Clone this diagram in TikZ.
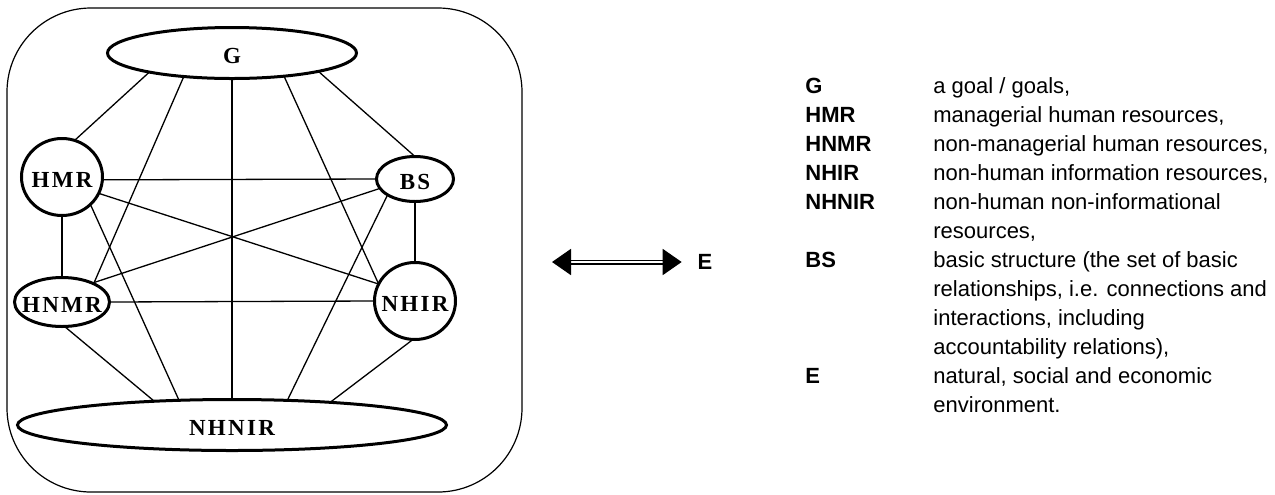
\documentclass[tikz,border=0pt]{standalone}
\usepackage{fontspec}
\setmainfont{Liberation Serif}
\newfontfamily\nodefont[LetterSpace=10]{Liberation Serif}
\newfontfamily\legendfont{Liberation Sans}
\usetikzlibrary{shapes.geometric,arrows.meta}

\tikzset{
  part/.style={ellipse, draw, line width=1.5pt, inner sep=0pt, outer sep=0pt},
  partname/.style={font=\nodefont\fontsize{11.5}{12}\selectfont\bfseries, inner sep=0pt, yshift=-1.5pt},
  link/.style={line width=0.65pt},
  key/.style={anchor=base west, inner sep=0pt, font=\legendfont\fontsize{11}{13}\selectfont\bfseries},
  meaning/.style={anchor=base west, inner sep=0pt, font=\legendfont\fontsize{11}{13}\selectfont},
}

\begin{document}
\begin{tikzpicture}[x=0.5pt,y=-0.5pt]
\useasboundingbox (0,0) rectangle (1275,494);

% === Organisation boundary ===
\draw[line width=0.6pt,rounded corners=42pt] (7,8) rectangle (522,492);

% === Parts ===
\node[part,minimum width=124.5pt,minimum height=25.5pt,label={[partname]center:G}] (G) at (232,53) {};
\node[part,minimum width=40.5pt,minimum height=38.5pt,label={[partname]center:HMR}] (HMR) at (62,177) {};
\node[part,minimum width=38.5pt,minimum height=22.5pt,label={[partname]center:BS}] (BS) at (415,179) {};
\node[part,minimum width=47.5pt,minimum height=24.5pt,label={[partname]center:HNMR}] (HNMR) at (62,302) {};
\node[part,minimum width=40.5pt,minimum height=38.5pt,label={[partname]center:NHIR}] (NHIR) at (415,301) {};
\node[part,minimum width=214.5pt,minimum height=25.5pt,label={[partname]center:NHNIR}] (NHNIR) at (232,425) {};

% === Links: every part with every other ===
\draw[link] (G.193) -- (HMR.71);
\draw[link] (G.206) -- (HNMR.30);
\draw[link] (G.270) -- (NHNIR.90);
\draw[link] (G.336) -- (NHIR.155);
\draw[link] (G.348) -- (BS.90);
\draw[link] (HMR.356) -- (BS.180);
\draw[link] (HMR.336) -- (NHIR.155);
\draw[link] (HMR.270) -- (HNMR.90);
\draw[link] (HMR.316) -- (NHNIR.155);
\draw[link] (BS.195) -- (HNMR.32);
\draw[link] (BS.270) -- (NHIR.90);
\draw[link] (BS.210) -- (NHNIR.24);
\draw[link] (HNMR.0) -- (NHIR.180);
\draw[link] (HNMR.276) -- (NHNIR.163);
\draw[link] (NHIR.267) -- (NHNIR.13);

% === Exchange with the environment ===
\coordinate (inside) at (552,262);
\node[font=\legendfont\fontsize{11}{13}\selectfont\bfseries, inner sep=7.8pt] (E) at (705,262) {E};
\draw[double, double distance=0.7pt, line width=0.9pt,
  {Triangle[length=9.5pt,width=13pt]}-{Triangle[length=9.5pt,width=13pt]}] (inside) -- (E);

% === Legend ===
\node[key] (kG) at (805,93.5) {G};
\node[meaning] (mG) at (933,93.5) {a goal / goals,};
\node[key] (kHMR) at (805,122.5) {HMR};
\node[meaning] (mHMR) at (933,122.5) {managerial human resources,};
\node[key] (kHNMR) at (805,151.5) {HNMR};
\node[meaning] (mHNMR) at (933,151.5) {non-managerial human resources,};
\node[key] (kNHIR) at (805,180.5) {NHIR};
\node[meaning] (mNHIR) at (933,180.5) {non-human information resources,};
\node[key] (kNHNIR) at (805,209.5) {NHNIR};
\node[meaning] (mNHNIRa) at (933,209.5) {non-human non-informational};
\node[meaning] (mNHNIRb) at (933,238.5) {resources,};
\node[key] (kBS) at (805,267.5) {BS};
\node[meaning] (mBSa) at (933,267.5) {basic structure (the set of basic};
\node[meaning] (mBSb) at (933,296.5) {relationships, i.e. connections and};
\node[meaning] (mBSc) at (933,325.5) {interactions, including};
\node[meaning] (mBSd) at (933,354.5) {accountability relations),};
\node[key] (kE) at (805,383.5) {E};
\node[meaning] (mEa) at (933,383.5) {natural, social and economic};
\node[meaning] (mEb) at (933,412.5) {environment.};

\end{tikzpicture}
\end{document}
